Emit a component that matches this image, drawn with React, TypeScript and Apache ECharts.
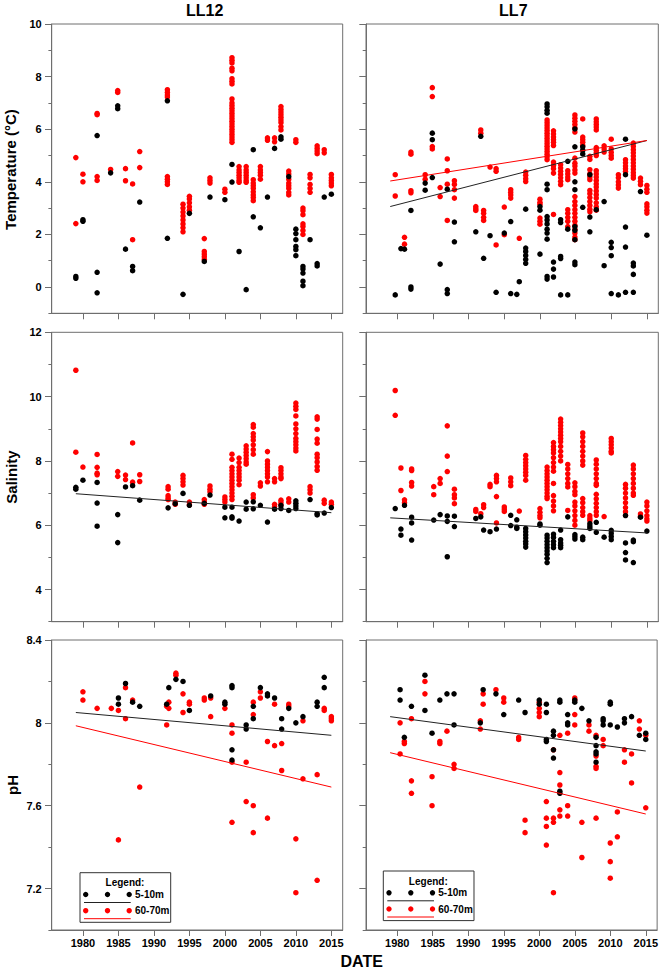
import React, { useEffect, useRef } from "react";
import * as echarts from "echarts";

type Col = [number, number[]];

// ---------- tick values ----------
const xTickYears = [1980, 1985, 1990, 1995, 2000, 2005, 2010, 2015];
const tempMajorTicks = [0, 2, 4, 6, 8, 10];
const salMajorTicks = [4, 6, 8, 10, 12];
const phMajorTicks = [7.2, 7.6, 8, 8.4];
const siteNames = ["LL12", "LL7"];
const rowNames = ["Temperature (°C)", "Salinity", "pH"];
const legendLabels = ["5-10m", "60-70m"];

// ---------- trend lines (start / end) ----------
const trendYears = [1979, 2015];
const ll7TempTrend5 = [3.06, 5.57];
const ll7TempTrend60 = [4.03, 5.57];
const ll12SalTrend5 = [6.98, 6.39];
const ll7SalTrend5 = [6.23, 5.76];
const ll12PhTrend5 = [8.05, 7.94];
const ll12PhTrend60 = [7.986, 7.69];
const ll7PhTrend5 = [8.03, 7.864];
const ll7PhTrend60 = [7.856, 7.56];

// ---------- Temperature LL12 ----------
const ll12Temp5: Col[] = [
  [1979, [0.4, 0.33]], [1980, [2.56, 2.5]], [1982, [5.76, 0.56, -0.22]], [1983.9, [4.34]],
  [1984.9, [6.89, 6.78]], [1986, [1.44]], [1987, [0.78, 0.62]], [1988, [3.23]],
  [1991.9, [7.08, 1.85]], [1994.1, [-0.28]], [1995, [2.8]], [1997.1, [0.97]], [1997.9, [3.42]],
  [2000, [3.32]], [2001, [4.66, 3.99]], [2002, [1.35]], [2003, [-0.1]], [2004, [5.22, 2.67]],
  [2005, [2.25]], [2006, [3.42]], [2007, [5.27]], [2007.9, [5.71, 5.62]], [2009, [4.2]],
  [2010, [2.2, 2.03, 1.8, 1.54, 1.42, 1.19]], [2011, [0.78, 0.68, 0.53, 0.22, 0.05]],
  [2012, [1.8]], [2013, [0.89, 0.8]], [2014, [3.42]], [2015, [3.53]],
];
const ll12Temp60: Col[] = [
  [1979, [4.92, 2.41]], [1980, [4.29, 4.0]], [1982, [6.6, 6.55, 4.2, 4.05]], [1983.9, [4.47]],
  [1984.9, [7.47, 7.4]], [1986, [4.5, 4.04]], [1987, [3.92, 1.8]], [1988, [5.15, 4.54]],
  [1991.9, [7.5, 7.4, 7.3, 7.22, 4.2, 4.1, 4.0, 3.9]],
  [1994.1, [3.15, 3.0, 2.85, 2.7, 2.55, 2.4, 2.25, 2.1]],
  [1995, [3.45, 3.35, 3.2, 3.05, 2.92]], [1997.1, [1.84, 1.35, 1.25, 1.15, 1.05]],
  [1997.9, [4.15, 4.05, 3.95]], [2000, [3.72, 3.6]],
  [2001, [8.72, 8.62, 8.52, 8.32, 8.22, 7.92, 7.82, 7.72, 7.15, 7.0, 6.9, 6.8, 6.7, 6.6, 6.5, 6.4, 6.3, 6.2, 6.1, 6.0, 5.9, 5.8, 5.7, 5.6, 5.5]],
  [2002, [4.58, 4.45, 4.35, 4.25, 4.15, 4.05, 3.98]], [2003, [4.58, 4.45, 4.35, 4.25, 4.15, 4.05, 3.98]],
  [2004, [4.08, 3.95, 3.85, 3.75, 3.62, 3.5, 3.4, 3.28]], [2005, [4.58, 4.45, 4.35, 4.25, 4.1]],
  [2006, [5.67, 5.58]], [2007, [5.67, 5.52]],
  [2007.9, [6.86, 6.75, 6.65, 6.55, 6.45, 6.35, 6.25, 6.1, 5.97]],
  [2009, [4.41, 4.3, 4.1, 3.95, 3.85, 3.75, 3.6, 3.5]], [2010, [5.6, 5.5]],
  [2011, [3.0, 2.9, 2.75, 2.4, 2.3, 2.15, 2.0]], [2012, [4.28, 4.15, 3.9, 3.75, 3.6]],
  [2013, [5.37, 5.27, 5.17, 5.07]], [2014, [5.22, 5.1]], [2015, [4.28, 4.15, 4.05, 3.95, 3.85]],
];

// ---------- Temperature LL7 ----------
const ll7Temp5: Col[] = [
  [1979.7, [-0.3]], [1980.5, [1.46]], [1981, [1.44]], [1981.9, [2.91, 0.0, -0.08]],
  [1983.9, [3.95, 3.68]], [1984.9, [5.85, 5.6, 4.16]], [1986, [0.87]], [1987, [3.72, -0.1, -0.25]],
  [1988, [2.47, 1.72]], [1991, [2.1]], [1991.7, [5.73]], [1992.1, [1.09]], [1993, [1.95]],
  [1993.85, [-0.2]], [1995, [2.05]], [1995.9, [2.49, -0.25]], [1996.75, [-0.28]], [1997.1, [0.2]],
  [1998, [2.96, 1.48, 1.35, 1.2, 1.05, 0.9]], [2000, [3.06, 2.92, 1.25]],
  [2001, [6.96, 6.85, 6.72, 6.61, 3.91, 3.7, 2.68, 2.55, 2.4, 2.2, 2.05, 1.82, 0.4, 0.3]],
  [2001.9, [0.95, 0.68, 0.38]], [2002.9, [2.56, 2.45, 1.16, 1.08, -0.3]], [2003.9, [4.78, 2.2, -0.3]],
  [2004.9, [6.01, 5.33, 4.0, 3.7, 2.3, 2.15, 1.8, 0.95, 0.85]], [2006, [5.33, 5.2, 5.06, 3.03]],
  [2007, [4.27, 2.66, 2.1]], [2007.9, [2.94]], [2009, [3.25, 0.81]], [2010, [1.7, 1.5, 1.19, -0.25]],
  [2011, [-0.3]], [2012, [5.62, 4.27, 2.28, 1.52, -0.2]], [2013.1, [0.91, 0.8, 0.48, -0.2]],
  [2014.1, [3.63]], [2015, [1.97]],
];
const ll7Temp60: Col[] = [
  [1979.7, [4.27, 3.46]], [1981, [1.89, 1.63]], [1981.9, [5.13, 5.05, 3.66, 3.58]],
  [1983.9, [4.27, 4.1]], [1984.9, [7.58, 7.24, 5.34, 5.25]], [1986, [3.78, 3.44]],
  [1987, [4.87, 4.42, 3.91, 2.53]], [1988, [4.04, 3.9, 3.7, 3.38]], [1991, [3.06, 2.98, 2.91]],
  [1991.7, [5.97, 5.85]], [1992.1, [2.91, 2.8, 2.65, 2.53]], [1993, [4.56]], [1993.85, [4.5, 4.4, 1.6]],
  [1995, [3.04, 1.99]], [1995.9, [3.7, 3.6, 3.5, 3.38]], [1997.1, [1.85]], [1998, [4.37, 4.25, 4.12, 4.01]],
  [2000, [3.34, 3.22, 3.15, 2.62, 2.5, 2.39]],
  [2001, [6.35, 6.25, 6.15, 6.05, 5.95, 5.85, 5.75, 5.65, 5.55, 5.45, 5.35, 5.25, 5.15, 5.05, 4.95, 4.84]],
  [2001.9, [5.94, 5.82, 5.7, 5.6, 5.5, 5.38, 4.75, 4.62, 4.5, 4.33, 2.76]],
  [2002.9, [4.65, 4.52, 4.4, 4.28, 4.15, 4.02, 3.89]],
  [2003.9, [4.42, 4.3, 4.18, 4.08, 2.94, 2.8, 2.65, 2.5, 2.3]],
  [2004.9, [6.54, 6.42, 6.3, 6.18, 6.05, 5.89, 4.9, 4.71, 4.6, 4.45, 4.33, 3.44, 3.25, 3.1, 2.94, 2.8, 2.65, 2.5, 2.35, 2.2, 2.05, 1.9, 1.8]],
  [2006, [6.39, 5.7, 5.6, 5.5, 5.38]],
  [2007, [4.97, 4.85, 4.46, 4.3, 4.18, 4.08, 3.67, 3.55, 3.4, 3.25, 3.1, 2.96, 2.86]],
  [2007.9, [6.39, 6.28, 6.18, 6.08, 5.97, 5.3, 5.2, 5.1, 5.0, 4.42, 4.3, 4.18, 4.05, 3.92, 3.8, 3.65, 3.51, 3.38, 3.2, 3.05, 2.92]],
  [2009, [5.37, 5.25, 5.13]], [2010, [5.62, 5.25, 5.12, 5.0, 4.9]], [2011, [4.27, 4.15, 4.0, 3.88, 3.76]],
  [2012, [4.84, 4.72, 4.6, 4.5, 4.39]],
  [2013.1, [5.47, 5.35, 5.22, 5.1, 4.98, 4.85, 4.72, 4.6, 4.48, 4.35, 4.24, 4.14]],
  [2014.1, [4.14, 4.02, 3.89]], [2015, [3.86, 3.72, 3.6, 3.16, 3.05, 2.92, 2.81]],
];

// ---------- Salinity LL12 ----------
const ll12Sal5: Col[] = [
  [1979, [7.18, 7.12]], [1980, [7.4]], [1982, [7.33, 6.69, 5.97]], [1984.9, [6.33, 5.46]], [1986, [7.19]],
  [1987, [7.23]], [1988, [6.78]], [1992, [6.54]], [1993, [6.67]], [1994.1, [6.99]], [1995, [6.62]],
  [1997.1, [6.68]], [1997.9, [6.94]], [2000, [6.56, 6.23]], [2001, [6.56, 6.26, 6.22]], [2002, [6.13]],
  [2003, [6.72, 6.5]], [2004, [6.73, 6.51]], [2005, [6.62]], [2006, [6.1]], [2007, [6.5]],
  [2007.9, [6.62, 6.52]], [2009, [6.46]], [2010, [6.76, 6.68, 6.6, 6.52]], [2012, [6.8]],
  [2013, [6.36, 6.32]], [2014, [6.38]], [2015, [6.55]],
];
const ll12Sal60: Col[] = [
  [1979, [10.82, 8.27]], [1980, [7.81]], [1982, [8.2, 7.8, 7.62, 7.57]], [1984.9, [7.67, 7.52]],
  [1986, [7.56, 7.42]], [1987, [8.56, 7.34]], [1988, [7.57, 7.36]], [1992, [7.2, 7.12, 6.92, 6.85, 6.8]],
  [1993, [6.72, 6.65]], [1994.1, [7.55, 7.45, 7.35, 7.25]], [1995, [6.72, 6.63]], [1997.1, [6.8, 6.72, 6.65]],
  [1997.9, [7.22, 7.12, 7.04]], [2000, [6.88, 6.8, 6.72]],
  [2001, [8.21, 8.05, 7.8, 7.7, 7.6, 7.5, 7.4, 7.3, 7.2, 7.1, 7.0, 6.9, 6.8]],
  [2002, [8.09, 7.95, 7.8, 7.7, 7.6, 7.5, 7.4, 7.26]], [2003, [8.47, 8.37, 8.27, 8.17, 8.07, 7.97, 7.9]],
  [2004, [9.13, 9.05, 8.85, 8.75, 8.65, 8.5, 8.35, 8.21, 6.95, 6.85]], [2005, [7.32, 7.22]],
  [2006, [8.29, 8.0, 7.9, 7.8, 7.7, 7.6, 7.5, 7.35]], [2007, [7.45, 7.35, 6.65, 6.58]],
  [2007.9, [7.79, 7.7, 7.6, 7.5, 7.45, 6.78, 6.7, 6.62]], [2009, [6.82, 6.72]],
  [2010, [9.8, 9.7, 9.6, 9.4, 9.15, 9.0, 8.85, 8.7, 8.6, 8.5, 8.4, 8.31]], [2012, [7.2, 7.1, 7.0]],
  [2013, [9.37, 9.3, 8.98, 8.68, 8.55, 8.21, 8.1, 7.97, 7.83, 7.71]], [2014, [6.78, 6.68]], [2015, [6.72, 6.65]],
];

// ---------- Salinity LL7 ----------
const ll7Sal5: Col[] = [
  [1979.7, [6.52]], [1980.5, [5.88, 5.69]], [1981, [6.62]], [1982, [6.25, 6.07, 5.54]], [1985.1, [6.16]],
  [1986, [6.33]], [1987, [6.29, 6.12, 5.02]], [1988, [6.28, 5.96]], [1991, [6.21]], [1991.7, [6.26]],
  [1992.1, [5.85]], [1993, [5.8]], [1993.9, [5.88]], [1995.9, [6.31, 5.99]], [1996.75, [6.17, 5.94, 5.9]],
  [1998, [5.9, 5.8, 5.7, 5.6, 5.5, 5.42, 5.32]], [2000, [6.04, 6.0]],
  [2001, [5.69, 5.6, 5.5, 5.4, 5.3, 5.2, 5.1, 4.97, 4.84]], [2001.9, [5.72, 5.62, 5.5, 5.4, 5.3]],
  [2002.9, [5.85, 5.55, 5.45, 5.38, 5.3]], [2003.9, [6.26]], [2004.9, [5.71, 5.64, 5.57]], [2006, [5.63, 5.55]],
  [2007, [6.05, 5.97, 5.9]], [2007.9, [6.09, 5.78]], [2009, [5.63]], [2010, [5.84, 5.75, 5.65, 5.55]],
  [2012, [6.3, 5.45, 5.15, 4.92]], [2013.1, [5.54, 5.49, 4.84]], [2014.1, [6.25]], [2015, [5.82]],
];
const ll7Sal60: Col[] = [
  [1979.7, [10.19, 9.42]], [1980.5, [7.78, 7.08]], [1981, [6.79, 6.7]], [1982, [7.75, 7.7, 7.33, 7.22]],
  [1985.1, [7.2, 6.95]], [1986, [7.45, 7.3]], [1987, [9.09, 8.15, 7.67]], [1988, [7.12, 6.95, 6.85, 6.67]],
  [1991, [6.49, 6.43]], [1991.7, [6.36]], [1992.1, [6.64, 6.55]], [1993, [7.27, 7.2]],
  [1993.9, [7.55, 7.45, 7.35, 6.89, 6.07]], [1995, [6.57, 6.5, 6.43]], [1995.9, [7.47, 7.35, 7.23]],
  [1997.1, [6.44]], [1998, [8.17, 8.05, 7.95, 7.85, 7.75, 7.65, 7.55, 7.4]], [2000, [6.52, 6.4, 6.3, 6.23]],
  [2001, [7.81, 7.7, 7.6, 7.5, 7.4, 7.3, 7.2, 7.1, 7.0, 6.9, 6.83]],
  [2001.9, [8.57, 8.45, 8.35, 8.25, 8.1, 7.95, 7.81, 7.68, 7.3, 6.92, 6.75, 6.6, 6.45]],
  [2002.9, [9.3, 9.2, 9.1, 9.0, 8.9, 8.8, 8.7, 8.6, 8.45, 8.3, 8.15, 8.0]],
  [2003.9, [7.89, 7.75, 7.6, 7.45, 7.3, 7.19, 6.46]],
  [2004.9, [7.32, 7.2, 7.05, 6.95, 6.72, 6.6, 6.45, 6.3, 6.15, 6.0]],
  [2006, [8.87, 8.75, 8.6, 8.45, 8.3, 8.15, 8.0, 7.87, 6.83, 6.7, 6.55, 6.42, 6.31]], [2007, [6.3, 6.22, 6.15]],
  [2007.9, [8.03, 7.9, 7.75, 7.6, 7.45, 7.3, 7.24, 6.96, 6.82, 6.68, 6.55, 6.42, 6.31]], [2009, [6.27]],
  [2010, [8.7, 8.6, 8.5, 8.4, 8.3, 8.25]], [2012, [7.27, 7.15, 7.0, 6.85, 6.7, 6.55, 6.42, 6.31]],
  [2013.1, [7.87, 7.75, 7.6, 7.45, 7.3, 7.15, 7.0, 6.93]], [2014.1, [6.35, 6.28]],
  [2015, [6.72, 6.6, 6.45, 6.3, 6.2, 6.13]],
];

// ---------- pH LL12 ----------
const ll12Ph5: Col[] = [
  [1985, [8.12, 8.09]], [1986, [8.19]], [1987, [8.1]], [1988, [8.08]], [1991.8, [8.09]], [1992.1, [8.17]],
  [1993.1, [8.21]], [1994.1, [8.2]], [1995, [8.06]], [1998, [8.13]], [2000, [8.1, 8.09]],
  [2001, [8.18, 8.17, 7.87, 7.82]], [2003, [7.99, 7.97]], [2004, [8.08, 8.02]], [2005, [8.17]],
  [2006, [8.14, 8.13]], [2007, [8.12]], [2008, [8.02, 7.97]], [2009, [8.07]], [2010, [8.0]], [2011, [8.03]],
  [2013, [8.1, 8.08]], [2014, [8.22, 8.17]],
];
const ll12Ph60: Col[] = [
  [1980, [8.15, 8.11]], [1982, [8.07]], [1984, [8.07]], [1985, [8.06, 7.435]], [1986, [8.17, 8.02]],
  [1987, [8.11]], [1988, [7.69]], [1991.8, [8.08, 7.99]], [1992.1, [8.1, 8.07]], [1993.1, [8.24, 8.23]],
  [1994.1, [8.14, 8.05]], [1995, [8.1, 8.09]], [1997.1, [8.12, 8.11]], [1998, [8.12, 8.03]], [2000, [8.07]],
  [2001, [7.99, 7.95, 7.81, 7.52]], [2003, [7.81, 7.62]], [2004, [8.1, 8.04, 7.6, 7.47]], [2005, [8.15, 8.12]],
  [2006, [7.91, 7.54]], [2007, [8.09, 7.89]], [2008, [7.9, 7.77]], [2009, [8.09, 8.08]], [2010, [7.44, 7.18]],
  [2011, [8.01, 7.73]], [2013, [7.75, 7.24]], [2014, [8.07, 8.06]], [2015, [8.03, 8.02, 8.01]],
];

// ---------- pH LL7 ----------
const ll7Ph5: Col[] = [
  [1980.4, [8.16, 8.11]], [1981, [7.93]], [1982, [8.08]], [1983.9, [8.23, 8.06]], [1984.9, [7.95]],
  [1986, [8.11]], [1987, [8.14]], [1988, [8.14, 7.99]], [1991.7, [8.0]], [1992.1, [8.16]], [1993.9, [8.14]],
  [1995, [8.04]], [1997.1, [8.11]], [1998, [8.05]], [2000, [8.11, 8.09]], [2001, [8.09, 8.05, 7.92, 7.91]],
  [2002, [7.96, 7.94, 7.87, 7.83]], [2002.9, [8.11, 8.1, 7.67, 7.66]], [2004, [8.04, 8.0, 7.99]],
  [2005, [8.11, 8.1]], [2006, [8.07]], [2007, [8.01]], [2008, [7.93, 7.89, 7.86, 7.85, 7.81]],
  [2009, [8.02, 8.01, 7.99]], [2010, [8.1, 8.09, 7.99]], [2011, [7.98]], [2012, [8.02, 8.0]], [2013, [8.03]],
  [2014.1, [7.94]], [2015, [7.95, 7.92]],
];
const ll7Ph60: Col[] = [
  [1980.4, [8.0, 7.85]], [1981, [7.91, 7.9]], [1982, [8.02, 7.72, 7.66]], [1983.9, [8.2, 8.14]],
  [1984.9, [7.74, 7.6]], [1986, [7.91, 7.9]], [1987, [7.96]], [1988, [7.8, 7.78]], [1991.7, [8.01, 7.97]],
  [1992.1, [8.14, 8.09]], [1993.9, [8.16]], [1995, [8.12, 8.1]], [1997.1, [7.93, 7.92]], [1998, [7.53, 7.47]],
  [2000, [8.1, 8.07, 8.05, 8.03]], [2001, [7.62, 7.54, 7.5, 7.41]], [2002, [7.87, 7.54, 7.52, 7.18]],
  [2002.9, [7.94, 7.76, 7.7, 7.58, 7.55]], [2004, [7.95, 7.6, 7.55]], [2005, [8.12, 8.11, 8.04, 7.99]],
  [2006, [7.52, 7.35]], [2007, [7.99, 7.96]], [2008, [7.94, 7.84, 7.79, 7.78, 7.54]], [2009, [7.92, 7.89]],
  [2010, [7.42, 7.33, 7.25]], [2011, [7.57, 7.45]], [2012, [7.87, 7.81]], [2013, [7.85, 7.71]],
  [2014.1, [8.01, 7.97]], [2015, [7.94, 7.59]],
];

// ---------- layout ----------
const W = 661;
const H = 969;
const FONT = '"Liberation Sans", Arial, Helvetica, sans-serif';
const AX = "#6e6e6e";
const RED = "#ff0000";
const BLACK = "#000000";
const colLeft = [51.7, 366];
const colWidth = [291, 292.3];
const rowTop = [24, 332.3, 640];
const rowHeight = [289.3, 289.4, 290];
const X_MIN = 1975.6;
const X_MAX = 2016.6;

const rowsCfg = [
  { min: -1, max: 10, step: 1, majors: tempMajorTicks },
  { min: 3, max: 12, step: 1, majors: salMajorTicks },
  { min: 7, max: 8.4, step: 0.2, majors: phMajorTicks },
];

const panels: { black: Col[]; red: Col[]; t5?: number[]; t60?: number[] }[][] = [
  [
    { black: ll12Temp5, red: ll12Temp60 },
    { black: ll7Temp5, red: ll7Temp60, t5: ll7TempTrend5, t60: ll7TempTrend60 },
  ],
  [
    { black: ll12Sal5, red: ll12Sal60, t5: ll12SalTrend5 },
    { black: ll7Sal5, red: ll7Sal60, t5: ll7SalTrend5 },
  ],
  [
    { black: ll12Ph5, red: ll12Ph60, t5: ll12PhTrend5, t60: ll12PhTrend60 },
    { black: ll7Ph5, red: ll7Ph60, t5: ll7PhTrend5, t60: ll7PhTrend60 },
  ],
];

const flat = (cols: Col[]) => cols.flatMap(([yr, vs]) => vs.map((v) => [yr, v]));
const fmt = (v: number) => String(+(+v).toFixed(2));

function legendGroup(x0: number, y0: number) {
  const dotsX = [5.7, 27.5, 49.2];
  const children: any[] = [
    { type: "rect", shape: { x: 0, y: 0, width: 90.7, height: 49.6 }, style: { fill: "#fff", stroke: "#333", lineWidth: 1 } },
    { type: "text", x: 45, y: 10, style: { text: "Legend:", fill: "#000", font: `bold 10px ${FONT}`, align: "center", verticalAlign: "middle" } },
  ];
  const rowsY = [21.8, 38];
  const colors = [BLACK, RED];
  rowsY.forEach((ry, i) => {
    dotsX.forEach((dx) => children.push({ type: "circle", shape: { cx: dx, cy: ry, r: 2.7 }, style: { fill: colors[i] } }));
    children.push({ type: "line", shape: { x1: 4, y1: ry + 8, x2: 50.7, y2: ry + 8 }, style: { stroke: i === 0 ? "#222" : RED, lineWidth: 1 } });
    children.push({ type: "text", x: 55, y: ry, style: { text: legendLabels[i], fill: "#000", font: `bold 10px ${FONT}`, align: "left", verticalAlign: "middle" } });
  });
  return { type: "group", x: x0, y: y0, children, z: 100 };
}

function buildOption() {
  const grid: any[] = [];
  const xAxis: any[] = [];
  const yAxis: any[] = [];
  const series: any[] = [];
  for (let r = 0; r < 3; r++) {
    for (let c = 0; c < 2; c++) {
      const g = r * 2 + c;
      const cfg = rowsCfg[r];
      grid.push({
        left: colLeft[c], top: rowTop[r], width: colWidth[c], height: rowHeight[r],
        show: true, borderColor: AX, borderWidth: 1, backgroundColor: "transparent",
      });
      xAxis.push({
        type: "value", gridIndex: g, min: X_MIN, max: X_MAX,
        axisLine: { show: true, onZero: false, lineStyle: { color: AX, width: 1 } },
        axisTick: { show: true, customValues: xTickYears, length: 6, lineStyle: { color: AX, width: 1 } },
        axisLabel: {
          show: r === 2, customValues: xTickYears, margin: 7, color: "#000",
          fontFamily: FONT, fontWeight: "bold", fontSize: 11, formatter: (v: number) => String(Math.round(v)),
        },
        splitLine: { show: false },
      });
      // minor-tick axis (used by series)
      yAxis.push({
        type: "value", gridIndex: g, position: "left", min: cfg.min, max: cfg.max, interval: cfg.step,
        axisLine: { show: true, onZero: false, lineStyle: { color: AX, width: 1 } },
        axisTick: { show: true, length: 3.3, lineStyle: { color: AX, width: 1 } },
        axisLabel: { show: false },
        splitLine: { show: false },
      });
      // major-tick + label axis
      yAxis.push({
        type: "value", gridIndex: g, position: "left", min: cfg.min, max: cfg.max,
        axisLine: { show: false },
        axisTick: { show: true, customValues: cfg.majors, length: 6.7, lineStyle: { color: AX, width: 1 } },
        axisLabel: {
          show: c === 0, customValues: cfg.majors, margin: 10, color: "#000",
          fontFamily: FONT, fontWeight: "bold", fontSize: 11, formatter: (v: number) => fmt(v),
        },
        splitLine: { show: false },
      });
      const p = panels[r][c];
      const yIdx = g * 2;
      series.push({
        type: "scatter", xAxisIndex: g, yAxisIndex: yIdx, data: flat(p.red),
        symbolSize: 5.5, itemStyle: { color: RED, opacity: 1 }, z: 2,
      });
      series.push({
        type: "scatter", xAxisIndex: g, yAxisIndex: yIdx, data: flat(p.black),
        symbolSize: 5.5, itemStyle: { color: BLACK, opacity: 1 }, z: 3,
      });
      if (p.t5) {
        series.push({
          type: "line", xAxisIndex: g, yAxisIndex: yIdx, symbol: "none", z: 4,
          data: trendYears.map((yr, i) => [yr, p.t5![i]]),
          lineStyle: { color: "#222", width: 1 },
        });
      }
      if (p.t60) {
        series.push({
          type: "line", xAxisIndex: g, yAxisIndex: yIdx, symbol: "none", z: 4,
          data: trendYears.map((yr, i) => [yr, p.t60![i]]),
          lineStyle: { color: RED, width: 1 },
        });
      }
    }
  }

  const graphic: any[] = [
    { type: "text", x: 204.7, y: 10, style: { text: siteNames[0], fill: "#000", font: `bold 16px ${FONT}`, align: "center", verticalAlign: "middle" } },
    { type: "text", x: 513.3, y: 10, style: { text: siteNames[1], fill: "#000", font: `bold 16px ${FONT}`, align: "center", verticalAlign: "middle" } },
    { type: "text", x: 10, y: 169.5, rotation: Math.PI / 2, style: { text: rowNames[0], fill: "#000", font: `bold 15px ${FONT}`, align: "center", verticalAlign: "middle" } },
    { type: "text", x: 11, y: 477, rotation: Math.PI / 2, style: { text: rowNames[1], fill: "#000", font: `bold 15px ${FONT}`, align: "center", verticalAlign: "middle" } },
    { type: "text", x: 12, y: 785, rotation: Math.PI / 2, style: { text: rowNames[2], fill: "#000", font: `bold 15px ${FONT}`, align: "center", verticalAlign: "middle" } },
    { type: "text", x: 361.7, y: 961, style: { text: "DATE", fill: "#000", font: `bold 16px ${FONT}`, align: "center", verticalAlign: "middle" } },
    legendGroup(80, 872.7),
    legendGroup(383.3, 871),
  ];

  return { animation: false, backgroundColor: "#fff", grid, xAxis, yAxis, series, graphic };
}

export default function App() {
  const ref = useRef<HTMLDivElement>(null);
  useEffect(() => {
    document.body.style.margin = "0";
    if (!ref.current) return;
    const chart = echarts.init(ref.current, undefined, { renderer: "svg" });
    chart.setOption(buildOption() as any);
    return () => chart.dispose();
  }, []);
  return <div ref={ref} style={{ width: W, height: H }} />;
}
